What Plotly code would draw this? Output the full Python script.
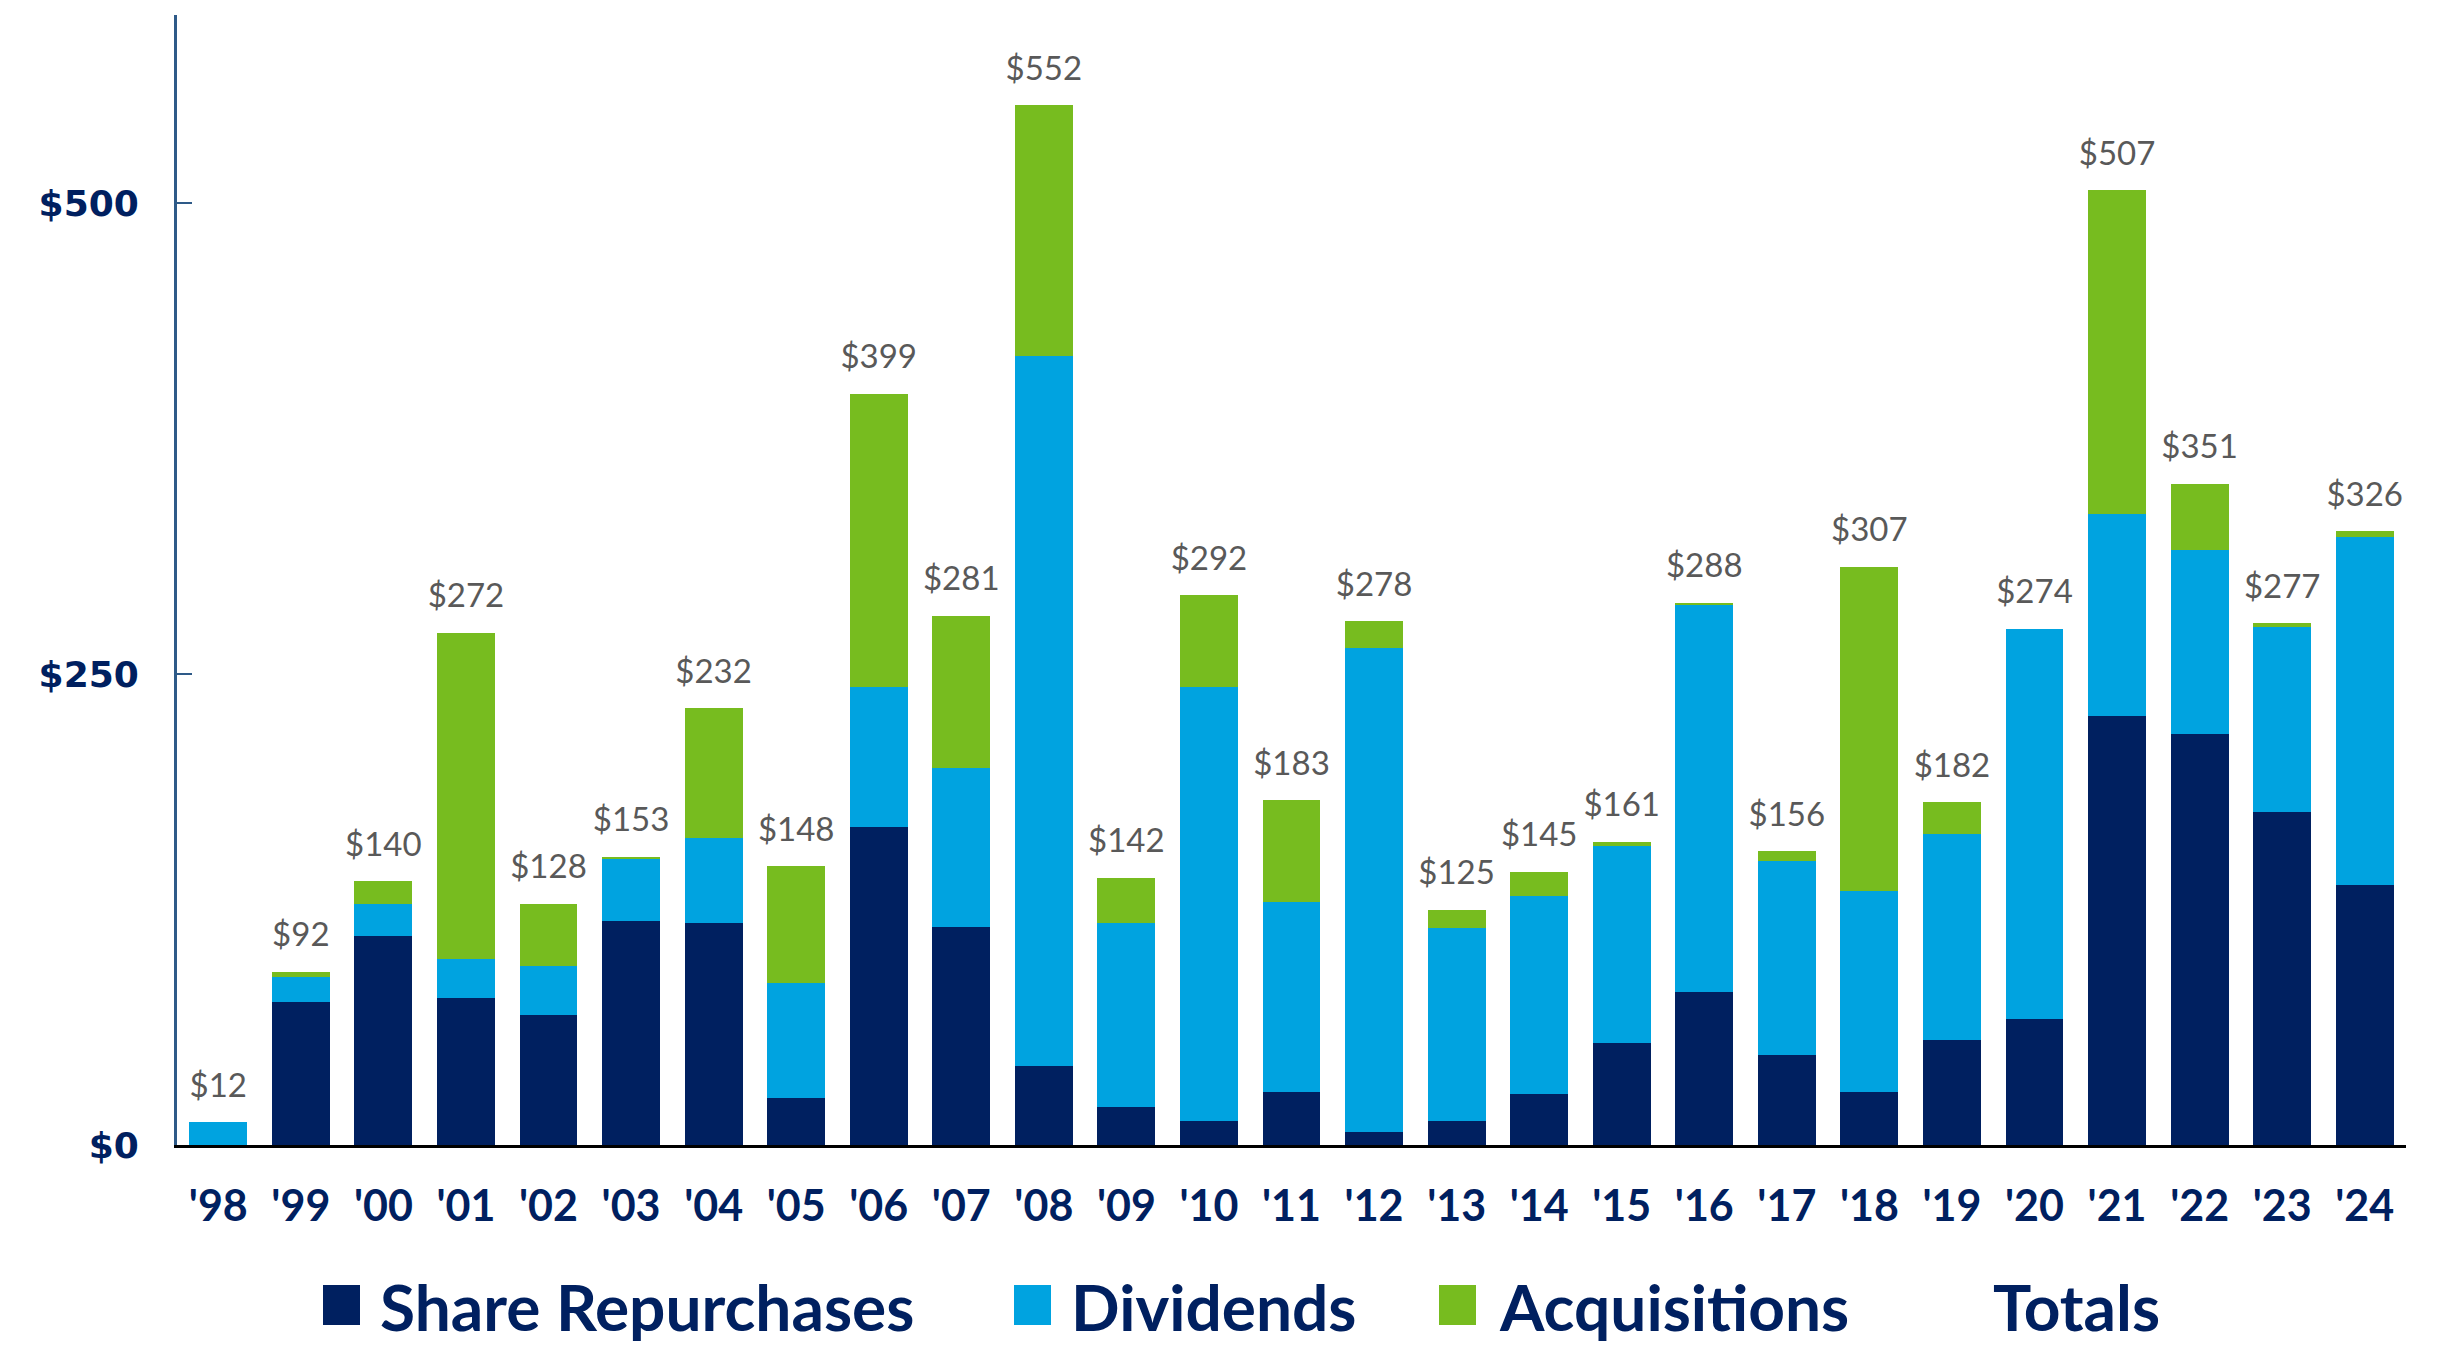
import plotly.graph_objects as go

years = ["'98", "'99", "'00", "'01", "'02", "'03", "'04", "'05", "'06", "'07", "'08", "'09", "'10",
         "'11", "'12", "'13", "'14", "'15", "'16", "'17", "'18", "'19", "'20", "'21", "'22", "'23", "'24"]
repurchases = [0, 76, 111, 78, 69, 119, 118, 25, 169, 116, 42, 20, 13, 28, 7, 13, 27, 54, 81, 48, 28, 56, 67, 228, 218, 177, 138]
dividends = [12, 13, 17, 21, 26, 33, 45, 61, 74, 84, 377, 98, 230, 101, 257, 102, 105, 105, 206, 103, 107, 109, 207, 107, 98, 98, 185]
acquisitions = [0, 3, 12, 173, 33, 1, 69, 62, 156, 81, 133, 24, 49, 54, 14, 10, 13, 2, 1, 5, 172, 17, 0, 172, 35, 2, 3]
totals = [12, 92, 140, 272, 128, 153, 232, 148, 399, 281, 552, 142, 292, 183, 278, 125, 145, 161, 288, 156, 307, 182, 274, 507, 351, 277, 326]

y_tickvals = [0, 250, 500]
y_ticktext = ["$0", "$250", "$500"]

series_names = ["Share Repurchases", "Dividends", "Acquisitions", "Totals"]
series_colors = ["#002060", "#00A3E0", "#77BC1F", None]

W, H = 2450, 1349
L, R, T, B = 177, 44, 15, 204
NAVY = "#002060"
HUM = "Lato, sans-serif"

fig = go.Figure()
for name, vals, col in zip(series_names[:3], [repurchases, dividends, acquisitions], series_colors[:3]):
    fig.add_trace(go.Bar(x=years, y=vals, name=name, marker=dict(color=col, line=dict(width=0)),
                         showlegend=False, hoverinfo="x+y+name"))

fig.add_trace(go.Scatter(
    x=years, y=totals, mode="markers+text", name="Totals",
    marker=dict(size=26, color="rgba(0,0,0,0)"),
    text=["$" + str(v) for v in totals], textposition="top center",
    textfont=dict(family=HUM, size=33, color="#595959"),
    showlegend=False, hoverinfo="skip"))

fig.update_layout(
    width=W, height=H, barmode="stack", bargap=0.3,
    margin=dict(l=L, r=R, t=T, b=B, pad=0),
    plot_bgcolor="white", paper_bgcolor="white",
    xaxis=dict(type="category", range=[-0.5, 26.5], showline=True, linecolor="black", linewidth=3,
               ticks="", showgrid=False, zeroline=False,
               tickfont=dict(family=HUM, size=43, color=NAVY, weight="bold"),
               ticklabelstandoff=21),
    yaxis=dict(range=[0, 600], tickvals=y_tickvals, ticktext=y_ticktext, showgrid=False,
               zeroline=False, showline=True, linecolor="#2E5A88", linewidth=3,
               ticks="inside", ticklen=15, tickwidth=2, tickcolor="#2E5A88",
               tickfont=dict(family="DejaVu Sans", size=36, color=NAVY, weight="bold"),
               ticklabelstandoff=28),
)

# custom legend drawn in paper coordinates from pixel layout
pw, ph = W - L - R, H - T - B
def px(xp):
    return (xp - L) / pw
def py(yp):
    return (H - B - yp) / ph

sq_left = [323, 1014, 1439, None]
text_left = [378, 1069, 1497, 1991]
leg_mid = 1306
for name, col, sx, tx in zip(series_names, series_colors, sq_left, text_left):
    if col is not None:
        fig.add_shape(type="rect", xref="paper", yref="paper",
                      x0=px(sx), x1=px(sx + 37), y0=py(leg_mid + 19), y1=py(leg_mid - 21),
                      fillcolor=col, line=dict(width=0))
    fig.add_annotation(xref="paper", yref="paper", x=px(tx), y=py(leg_mid), text=name,
                       showarrow=False, xanchor="left", yanchor="middle",
                       font=dict(family=HUM, size=64, color=NAVY, weight="bold"))

fig.write_html("out.html")
